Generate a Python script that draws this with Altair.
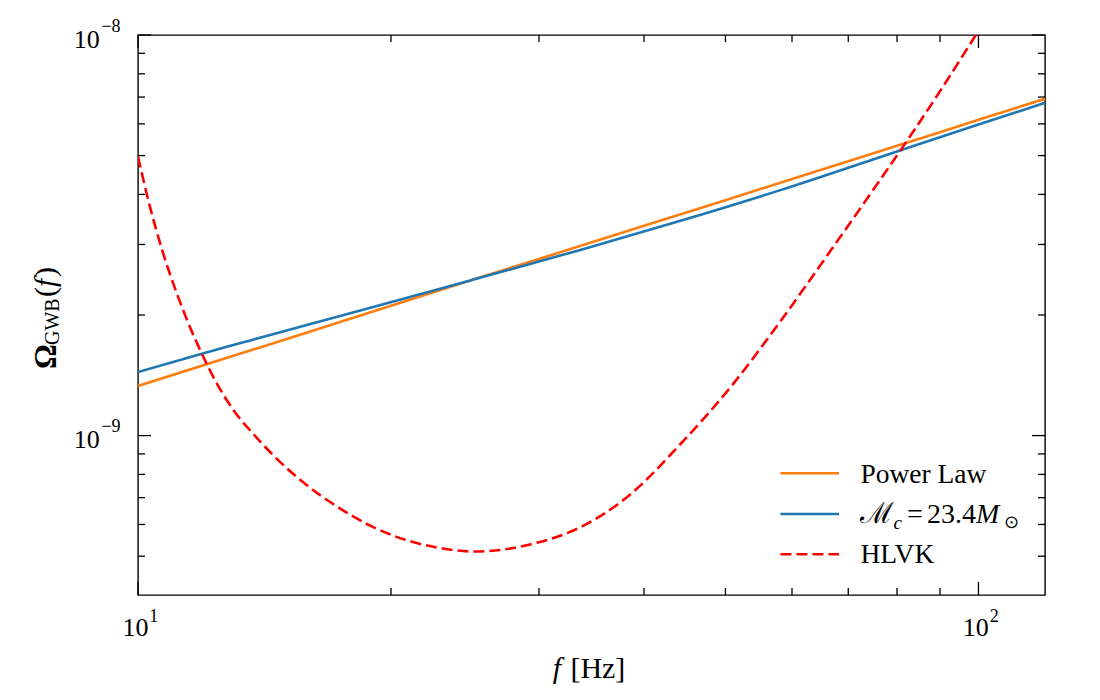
import altair as alt
import pandas as pd

W, H = 907, 560
SERIF = "Liberation Serif"

# ---- data ----
freq_pl = [10, 15, 20, 25.5, 30, 40, 50, 60, 70, 80, 90, 100, 120]
omega_pl = [1.33e-9, 1.74e-9, 2.11e-9, 2.48e-9, 2.76e-9, 3.34e-9, 3.87e-9,
            4.37e-9, 4.84e-9, 5.29e-9, 5.72e-9, 6.14e-9, 6.93e-9]

freq_bbh = [10, 12, 13.6, 15.8, 20.8, 25.5, 33.6, 44, 58, 76, 100, 120]
omega_bbh = [1.441e-9, 1.608e-9, 1.728e-9, 1.883e-9, 2.201e-9, 2.476e-9,
             2.907e-9, 3.427e-9, 4.094e-9, 4.939e-9, 5.979e-9, 6.768e-9]

freq_hlvk = [10.0, 10.33, 10.71, 11.11, 11.47, 11.90, 12.33, 13.02, 13.76, 14.67,
             15.78, 17.29, 18.92, 20.76, 22.74, 25.2, 29.27, 33.57, 38.49, 44.15,
             50.63, 58.06, 66.61, 76.38, 82.92, 90.02, 98.56, 107.2]
omega_hlvk = [4.97e-9, 3.735e-9, 2.858e-9, 2.278e-9, 1.916e-9, 1.608e-9, 1.384e-9,
              1.150e-9, 1.002e-9, 8.70e-10, 7.60e-10, 6.63e-10, 5.95e-10, 5.50e-10,
              5.25e-10, 5.135e-10, 5.35e-10, 5.90e-10, 7.12e-10, 9.50e-10, 1.316e-9,
              1.923e-9, 2.884e-9, 4.349e-9, 5.588e-9, 7.242e-9, 9.761e-9, 1.297e-8]

x_major = [10, 100]
x_minor = [20, 30, 40, 50, 60, 70, 80, 90]
y_major = [1e-9, 1e-8]
y_minor = [5e-10, 6e-10, 7e-10, 8e-10, 9e-10,
           2e-9, 3e-9, 4e-9, 5e-9, 6e-9, 7e-9, 8e-9, 9e-9]
x_tick_base = ["10", "10"]
x_tick_exp = ["1", "2"]
y_tick_base = ["10", "10"]
y_tick_exp = ["\u22129", "\u22128"]

series_names = ["Power Law", "Mc", "HLVK"]
series_colors = ["#ff7f0e", "#1f77b4", "#ff0000"]

xs = alt.Scale(type="log", domain=[10, 120])
ys = alt.Scale(type="log", domain=[4e-10, 1e-8])


def X(field):
    return alt.X(field, type="quantitative", scale=xs, axis=None)


def Y(field):
    return alt.Y(field, type="quantitative", scale=ys, axis=None)


def line(freqs, vals, color, dash=None, interp="linear"):
    df = pd.DataFrame({"f": freqs, "o": vals})
    kw = dict(color=color, strokeWidth=2.6, clip=True, interpolate=interp)
    if dash:
        kw["strokeDash"] = dash
    return alt.Chart(df).mark_line(**kw).encode(x=X("f"), y=Y("o"))


def txt(text, x, y, size, angle=0, align="left", **kw):
    df = pd.DataFrame({"t": [text]})
    return alt.Chart(df).mark_text(
        font=SERIF, fontSize=size, align=align, baseline="alphabetic",
        angle=angle, color="black", **kw
    ).encode(x=alt.value(x), y=alt.value(y), text="t:N")


layers = []
layers.append(line(freq_pl, omega_pl, series_colors[0]))
layers.append(line(freq_bbh, omega_bbh, series_colors[1], interp="monotone"))
layers.append(line(freq_hlvk, omega_hlvk, series_colors[2], dash=[11, 5], interp="monotone"))

# ---- inward ticks on all four sides ----
TK = dict(color="black", strokeWidth=1.3)
for vals, ln in [(x_major, 13), (x_minor, 7)]:
    d = pd.DataFrame({"v": vals})
    layers.append(alt.Chart(d).mark_rule(**TK).encode(x=X("v"), y=alt.value(H), y2=alt.value(H - ln)))
    layers.append(alt.Chart(d).mark_rule(**TK).encode(x=X("v"), y=alt.value(0), y2=alt.value(ln)))
for vals, ln in [(y_major, 13), (y_minor, 7)]:
    d = pd.DataFrame({"v": vals})
    layers.append(alt.Chart(d).mark_rule(**TK).encode(y=Y("v"), x=alt.value(0), x2=alt.value(ln)))
    layers.append(alt.Chart(d).mark_rule(**TK).encode(y=Y("v"), x=alt.value(W), x2=alt.value(W - ln)))

# ---- tick labels ----
dxl = pd.DataFrame({"v": x_major, "b": x_tick_base, "e": x_tick_exp})
layers.append(alt.Chart(dxl).mark_text(font=SERIF, fontSize=26, align="left", baseline="alphabetic",
                                        dx=-15.6, color="black")
              .encode(x=X("v"), y=alt.value(H + 41), text="b:N"))
layers.append(alt.Chart(dxl).mark_text(font=SERIF, fontSize=18, align="left", baseline="alphabetic",
                                        dx=11.2, color="black")
              .encode(x=X("v"), y=alt.value(H + 26.7), text="e:N"))
dyl = pd.DataFrame({"v": y_major, "b": y_tick_base, "e": y_tick_exp})
layers.append(alt.Chart(dyl).mark_text(font=SERIF, fontSize=26, align="right", baseline="alphabetic",
                                        dy=12.8, color="black")
              .encode(y=Y("v"), x=alt.value(-38.3), text="b:N"))
layers.append(alt.Chart(dyl).mark_text(font=SERIF, fontSize=18, align="left", baseline="alphabetic",
                                        dy=-3.4, color="black")
              .encode(y=Y("v"), x=alt.value(-36.6), text="e:N"))

# ---- axis titles ----
layers.append(txt("f", 414.7, H + 83, 30, fontStyle="italic"))
layers.append(txt("[Hz]", 432.4, H + 83, 30))
layers.append(txt("\u03a9", -82.3, 334, 31, angle=270, fontWeight="bold"))
layers.append(txt("GWB", -79.5, 310, 20, angle=270))
layers.append(txt("(", -83, 262, 30, angle=270))
layers.append(txt("f", -83, 252, 30, angle=270, fontStyle="italic"))
layers.append(txt(")", -83, 242, 30, angle=270))

# ---- legend ----
leg_x0, leg_x1 = 642.4, 701
leg_rows = [438.3, 479, 519.3]
for i, yy in enumerate(leg_rows):
    kw = dict(color=series_colors[i], strokeWidth=2.6)
    if i == 2:
        kw["strokeDash"] = [11, 5]
    layers.append(alt.Chart(pd.DataFrame({"n": [series_names[i]]})).mark_rule(**kw)
                  .encode(x=alt.value(leg_x0), x2=alt.value(leg_x1), y=alt.value(yy)))
layers.append(txt(series_names[0], 722.4, 448.3, 27.5))
layers.append(txt("\u2133", 722.4, 488.3, 29))
layers.append(txt("c", 755.5, 494, 19, fontStyle="italic"))
layers.append(txt("=", 769, 488.3, 28))
layers.append(txt("23.4", 789, 488.3, 28))
layers.append(txt("M", 838, 488.3, 28, fontStyle="italic"))
layers.append(txt("\u2299", 866, 493, 18))
layers.append(txt(series_names[2], 722.4, 528.3, 27.5))

chart = alt.layer(*layers).properties(
    width=W, height=H,
    padding={"left": 130, "top": 27, "right": 40, "bottom": 100},
    autosize=alt.AutoSizeParams(type="none"),
).configure_view(stroke="black", strokeWidth=1.4)

chart.save("out.html", embed_options={"renderer": "svg", "actions": False})
